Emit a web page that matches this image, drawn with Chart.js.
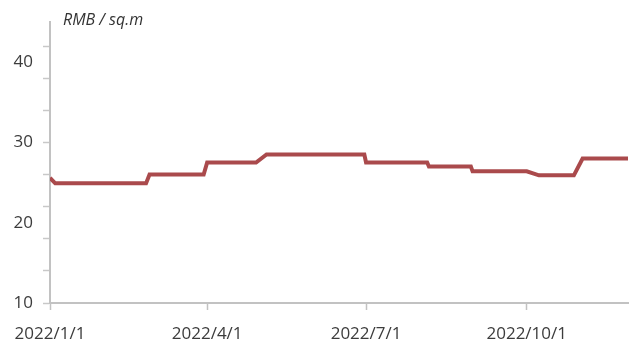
<!DOCTYPE html>
<html>
<head>
<meta charset="utf-8">
<script src="https://cdn.jsdelivr.net/npm/chart.js@4.4.1/dist/chart.umd.min.js"></script>
<style>
  html, body { margin: 0; padding: 0; background: #fff; }
  #wrap { width: 635px; height: 345px; position: relative; }
</style>
</head>
<body>
<div id="wrap"><canvas id="priceChart" width="635" height="345"></canvas></div>
<script>
// Price change points (date, RMB per sq.m)
const dates = [
  "2022/1/1", "2022/1/4", "2022/2/25", "2022/2/27", "2022/3/30", "2022/4/1",
  "2022/4/29", "2022/5/5", "2022/6/30", "2022/7/1", "2022/8/5", "2022/8/6",
  "2022/8/30", "2022/8/31", "2022/10/1", "2022/10/8", "2022/10/28", "2022/11/2",
  "2022/11/28"
];
const prices = [
  25.6, 24.9, 24.9, 26.0, 26.0, 27.5,
  27.5, 28.5, 28.5, 27.5, 27.5, 27.0,
  27.0, 26.4, 26.4, 25.9, 25.9, 28.0,
  28.0
];
const xTickLabels = ["2022/1/1", "2022/4/1", "2022/7/1", "2022/10/1"];
const yLabelValues = [10, 20, 30, 40];
const yMarkValues = [10, 14, 18, 22, 26, 30, 34, 38, 42];
const unitLabel = "RMB / sq.m";

// days since the first date
function dayIndex(s) {
  const p = s.split("/").map(Number);
  return Math.round((Date.UTC(p[0], p[1] - 1, p[2]) - Date.UTC(2022, 0, 1)) / 86400000);
}

const points = dates.map((d, i) => ({ x: dayIndex(d), y: prices[i] }));
const xTicks = xTickLabels.map(dayIndex);
const yTicks = Array.from(new Set(yLabelValues.concat(yMarkValues))).sort((a, b) => a - b);

const fontFamily = "'Open Sans', 'Noto Sans', sans-serif";

// unit label next to the top of the y axis
const unitPlugin = {
  id: "unitLabel",
  afterDraw(chart) {
    const c = chart.ctx;
    c.save();
    c.font = "italic 16px " + fontFamily;
    c.fillStyle = "#333";
    c.textBaseline = "alphabetic";
    c.fillText(unitLabel, chart.chartArea.left + 13, 25);
    c.restore();
  }
};

new Chart(document.getElementById("priceChart"), {
  type: "line",
  data: {
    datasets: [{
      data: points,
      borderColor: "#aa4a4c",
      borderWidth: 4,
      pointRadius: 0,
      tension: 0,
      fill: false
    }]
  },
  options: {
    responsive: false,
    animation: false,
    devicePixelRatio: 1,
    layout: { padding: { top: 22, right: 7, left: 0, bottom: 0 } },
    plugins: { legend: { display: false }, tooltip: { enabled: false } },
    scales: {
      x: {
        type: "linear",
        min: 0,
        max: 331,
        afterBuildTicks(axis) {
          axis.ticks = xTicks.map(v => ({ value: v }));
        },
        afterFit(axis) { axis.height = 42; },
        ticks: {
          autoSkip: false,
          maxRotation: 0,
          padding: 14,
          color: "#3c3c3c",
          font: { family: fontFamily, size: 17 },
          callback: (v) => xTickLabels[xTicks.indexOf(v)] || ""
        },
        grid: { drawOnChartArea: false, tickLength: 7, tickColor: "#c2c2c2", tickWidth: 1.5 },
        border: { color: "#c2c2c2", width: 2 }
      },
      y: {
        min: 10,
        max: 45,
        afterBuildTicks(axis) {
          axis.ticks = yTicks.map(v => ({ value: v }));
        },
        afterFit(axis) { axis.width = 50; },
        ticks: {
          autoSkip: false,
          padding: 10,
          color: "#3c3c3c",
          font: { family: fontFamily, size: 17 },
          callback: (v) => yLabelValues.includes(v) ? String(v) : ""
        },
        grid: {
          drawOnChartArea: false,
          tickLength: 7,
          tickWidth: 1.5,
          tickColor: (ctx) => ctx.tick && yMarkValues.includes(ctx.tick.value) ? "#c8c8c8" : "rgba(0,0,0,0)"
        },
        border: { color: "#c2c2c2", width: 2 }
      }
    }
  },
  plugins: [unitPlugin]
});
</script>
</body>
</html>
